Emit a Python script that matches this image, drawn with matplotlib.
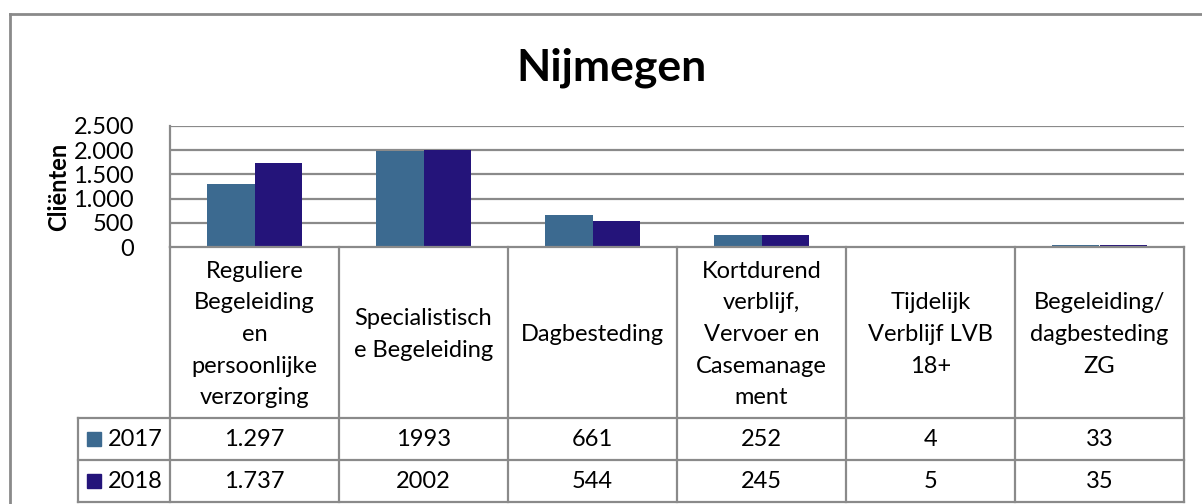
import matplotlib
matplotlib.use("Agg")
import matplotlib.pyplot as plt
import numpy as np

# Data
categories = ["Reguliere\nBegeleiding\nen\npersoonlijke\nverzorging",
              "Specialistisch\ne Begeleiding",
              "Dagbesteding",
              "Kortdurend\nverblijf,\nVervoer en\nCasemanage\nment",
              "Tijdelijk\nVerblijf LVB\n18+",
              "Begeleiding/\ndagbesteding\nZG"]
years = ["2017", "2018"]
values_2017 = [1297, 1993, 661, 252, 4, 33]
values_2018 = [1737, 2002, 544, 245, 5, 35]
labels_2017 = ["1.297", "1993", "661", "252", "4", "33"]
labels_2018 = ["1.737", "2002", "544", "245", "5", "35"]
yticks = [0, 500, 1000, 1500, 2000, 2500]
ytick_labels = ["0", "500", "1.000", "1.500", "2.000", "2.500"]

colors = ["#3c6a90", "#24147a"]
grid = "#8a8a8a"
plt.rcParams['font.family'] = ['Lato', 'DejaVu Sans']
fs = 17

W, H = 1202, 504
fig = plt.figure(figsize=(W / 100, H / 100), dpi=100)

# pixel geometry of the plot area / data table
x0, x1 = 170, 1184
ytop, ybot = 126, 247
colw = (x1 - x0) / len(categories)
row1, row2, row3 = 418, 460, 502
legx = 78

ax = fig.add_axes([x0 / W, 1 - ybot / H, (x1 - x0) / W, (ybot - ytop) / H])
x = np.arange(len(categories))
bw = 0.284
ax.bar(x - bw / 2, values_2017, bw, color=colors[0], zorder=3)
ax.bar(x + bw / 2, values_2018, bw, color=colors[1], zorder=3)
ax.set_xlim(-0.5, len(categories) - 0.5)
ax.set_ylim(0, 2500)
ax.set_yticks(yticks)
ax.set_yticklabels(ytick_labels, fontsize=fs)
ax.tick_params(axis='y', length=0, pad=26)
ax.set_xticks([])
for v in yticks[1:]:
    ax.axhline(v, color=grid, lw=1.6, zorder=1)
for s in ["top", "right", "bottom"]:
    ax.spines[s].set_visible(False)
ax.spines["left"].set_color(grid)
ax.spines["left"].set_linewidth(1.6)
ax.set_ylabel("Cliënten", fontsize=17, fontweight="bold", labelpad=2)

# overlay in pixel coordinates for frame, title and data table
ov = fig.add_axes([0, 0, 1, 1])
ov.set_xlim(0, W)
ov.set_ylim(H, 0)
ov.axis("off")
ov.patch.set_alpha(0)

ov.plot([10, 10], [14, H], color=grid, lw=2)
ov.plot([10, W], [14, 14], color=grid, lw=2)
ov.text(611, 68, "Nijmegen", fontsize=32, fontweight="bold",
        ha="center", va="center")

lw = 1.6
ov.plot([x0, x1], [ybot, ybot], color=grid, lw=lw)
for i in range(len(categories) + 1):
    xx = x0 + i * colw
    ov.plot([xx, xx], [ybot, row3], color=grid, lw=lw)
for yy in [row1, row2, row3]:
    ov.plot([legx, x1], [yy, yy], color=grid, lw=lw)
ov.plot([legx, legx], [row1, row3], color=grid, lw=lw)

for i, cat in enumerate(categories):
    cx = x0 + (i + 0.5) * colw
    ov.text(cx, (ybot + row1) / 2 + 2, cat, fontsize=fs, ha="center",
            va="center", linespacing=1.62)
    ov.text(cx, (row1 + row2) / 2 + 1, labels_2017[i], fontsize=fs,
            ha="center", va="center")
    ov.text(cx, (row2 + row3) / 2 + 1, labels_2018[i], fontsize=fs,
            ha="center", va="center")

for j, (yr, c) in enumerate(zip(years, colors)):
    cy = (row1 + row2) / 2 + j * (row2 - row1)
    ov.add_patch(plt.Rectangle((87, cy - 7), 14, 14, color=c))
    ov.text(108, cy + 1, yr, fontsize=fs, ha="left", va="center")

fig.savefig("out.png", dpi=100)
